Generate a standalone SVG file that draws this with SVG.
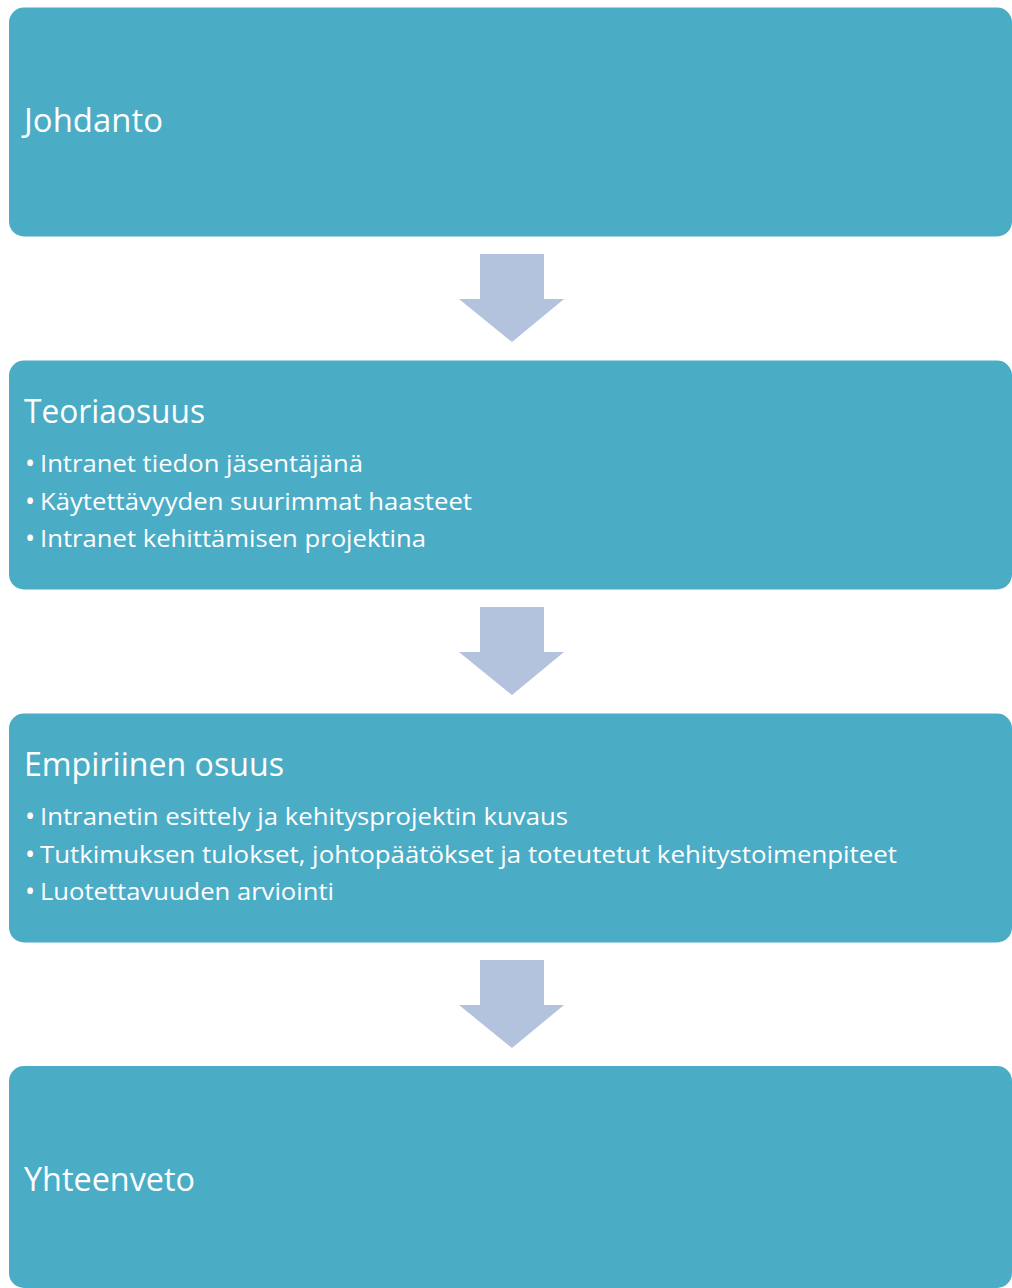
<svg xmlns="http://www.w3.org/2000/svg" width="1012" height="1288" viewBox="0 0 1012 1288">
<style>
.box{fill:#4BACC6}
.arrow{fill:#B3C2DD}
.title{font-family:"Open Sans","Noto Sans","Liberation Sans",sans-serif;font-size:33px;fill:#FFFFFF}
.item{font-family:"Open Sans","Noto Sans","Liberation Sans",sans-serif;font-size:24.5px;fill:#FFFFFF}
.dot{font-size:27px}
</style>
<rect width="1012" height="1288" fill="#FFFFFF"/>
<g id="connectors">
<path class="arrow" d="M480,254 H544 V299 H564 L512,342 L459,299 H480 Z"/>
<path class="arrow" d="M480,607 H544 V652 H564 L512,695 L459,652 H480 Z"/>
<path class="arrow" d="M480,960 H544 V1005 H564 L512,1048 L459,1005 H480 Z"/>
</g>
<g id="node-johdanto">
<rect class="box" x="9" y="7.5" width="1003" height="229" rx="15"/>
<text class="title" x="24" y="132" textLength="139" lengthAdjust="spacingAndGlyphs">Johdanto</text>
</g>
<g id="node-teoriaosuus">
<rect class="box" x="9" y="360.5" width="1003" height="229" rx="15"/>
<text class="title" x="24" y="423" textLength="181" lengthAdjust="spacingAndGlyphs">Teoriaosuus</text>
<text class="item" y="472"><tspan class="dot" x="25" dy="1">•</tspan><tspan x="40" dy="-1" textLength="323" lengthAdjust="spacingAndGlyphs">Intranet tiedon jäsentäjänä</tspan></text>
<text class="item" y="510"><tspan class="dot" x="25" dy="1">•</tspan><tspan x="40" dy="-1" textLength="432" lengthAdjust="spacingAndGlyphs">Käytettävyyden suurimmat haasteet</tspan></text>
<text class="item" y="547"><tspan class="dot" x="25" dy="1">•</tspan><tspan x="40" dy="-1" textLength="386" lengthAdjust="spacingAndGlyphs">Intranet kehittämisen projektina</tspan></text>
</g>
<g id="node-empiirinen">
<rect class="box" x="9" y="713.5" width="1003" height="229" rx="15"/>
<text class="title" x="24" y="776" textLength="260" lengthAdjust="spacingAndGlyphs">Empiriinen osuus</text>
<text class="item" y="825"><tspan class="dot" x="25" dy="1">•</tspan><tspan x="40" dy="-1" textLength="528" lengthAdjust="spacingAndGlyphs">Intranetin esittely ja kehitysprojektin kuvaus</tspan></text>
<text class="item" y="863"><tspan class="dot" x="25" dy="1">•</tspan><tspan x="40" dy="-1" textLength="857" lengthAdjust="spacingAndGlyphs">Tutkimuksen tulokset, johtopäätökset ja toteutetut kehitystoimenpiteet</tspan></text>
<text class="item" y="900"><tspan class="dot" x="25" dy="1">•</tspan><tspan x="40" dy="-1" textLength="294" lengthAdjust="spacingAndGlyphs">Luotettavuuden arviointi</tspan></text>
</g>
<g id="node-yhteenveto">
<rect class="box" x="9" y="1066" width="1003" height="222" rx="15"/>
<text class="title" x="24" y="1191" textLength="171" lengthAdjust="spacingAndGlyphs">Yhteenveto</text>
</g>
</svg>
